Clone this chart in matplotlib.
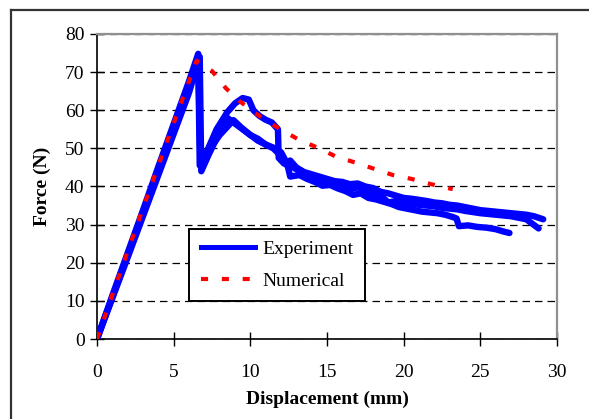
import matplotlib
matplotlib.use("Agg")
import matplotlib.pyplot as plt
from matplotlib.lines import Line2D

# Experimental force-displacement curves (three specimens)
exp1_x = [0, 1, 2, 3, 4, 5, 6, 6.6, 6.7, 7.2, 7.8, 8.5, 9.0, 9.5, 9.9, 10.2, 10.6, 11.0, 11.4, 11.8,
          11.85, 12.2, 12.6, 13.0, 13.5, 14.0, 14.5, 15.0, 15.5, 16.0, 16.5, 17.0, 17.5, 18.0, 18.5,
          19.0, 19.5, 20.0, 20.5, 21.0, 21.5, 22.0, 22.5, 23.0, 23.5, 24.0, 24.5, 25.0, 25.5, 26.0,
          26.5, 27.0, 27.5, 28.0, 28.5, 29.1]
exp1_y = [0, 11.4, 22.6, 33.8, 45.2, 56.4, 67.6, 74.8, 45.5, 49.5, 55.0, 59.5, 61.8, 63.2, 62.8, 60.0,
          58.5, 57.5, 56.8, 55.0, 47.5, 46.0, 46.8, 45.0, 43.8, 43.2, 42.6, 42.0, 41.4, 41.2, 40.6,
          40.8, 40.0, 39.6, 38.6, 38.2, 37.6, 37.0, 36.8, 36.5, 36.2, 35.8, 35.6, 35.2, 35.0, 34.6,
          34.2, 33.8, 33.6, 33.4, 33.2, 33.0, 32.8, 32.6, 32.2, 31.4]

exp2_x = [0, 1, 2, 3, 4, 5, 6, 6.7, 6.8, 7.3, 7.9, 8.5, 9.0, 9.5, 10.0, 10.5, 11.0, 11.5, 12.0,
          12.4, 12.6, 13.2, 13.7, 14.2, 14.7, 15.2, 15.7, 16.2, 16.7, 17.2, 17.7, 18.2, 18.7, 19.2,
          19.7, 20.2, 20.7, 21.2, 21.7, 22.2, 22.7, 23.2, 23.45, 23.6, 24.2, 24.8, 25.4, 26.0, 26.5,
          26.9]
exp2_y = [0, 11.0, 22.1, 33.2, 44.3, 55.4, 66.5, 74.0, 44.0, 48.5, 53.5, 58.0, 56.5, 55.0, 53.5,
          52.5, 51.0, 50.2, 49.0, 46.0, 42.6, 43.0, 42.0, 41.2, 40.2, 40.4, 39.5, 38.8, 37.8, 38.2,
          37.0, 36.6, 36.0, 35.4, 34.6, 34.2, 33.8, 33.4, 33.2, 33.0, 32.6, 32.0, 31.6, 29.6, 29.8,
          29.4, 29.2, 28.8, 28.2, 27.8]

exp3_x = [0, 1, 2, 3, 4, 5, 6, 6.6, 6.75, 7.3, 8.0, 8.9, 9.4, 10.0, 10.5, 11.0, 11.5, 12.0, 12.4,
          12.8, 13.3, 14.0, 14.5, 15.0, 15.5, 16.0, 16.5, 17.0, 17.5, 18.0, 18.5, 19.0, 19.5, 20.0,
          20.5, 21.0, 21.5, 22.0, 22.5, 23.0, 23.5, 24.0, 24.5, 25.0, 25.5, 26.0, 26.5, 27.0, 27.5,
          28.0, 28.4, 28.8]
exp3_y = [0, 10.7, 21.4, 32.2, 43.0, 53.8, 64.6, 72.8, 46.0, 49.5, 53.5, 57.4, 55.5, 53.5, 52.0,
          51.0, 50.0, 48.0, 45.5, 45.0, 43.8, 42.8, 42.0, 41.4, 41.0, 40.4, 39.2, 39.8, 38.8, 38.2,
          37.6, 35.8, 36.2, 35.8, 35.4, 35.2, 35.0, 34.8, 34.4, 34.2, 34.0, 33.6, 33.3, 33.0, 32.8,
          32.6, 32.4, 32.2, 31.8, 31.4, 30.2, 29.0]

# Numerical prediction
num_x = [0, 1, 2, 3, 4, 5, 6, 6.5, 7.5, 8.4, 9.2, 10.3, 11.3, 12.4, 13.2, 14.5, 15.6, 17.0, 18.1,
         19.3, 20.5, 21.8, 23.2]
num_y = [0, 11.6, 23.0, 34.3, 45.5, 56.6, 67.6, 73.0, 70.3, 65.8, 62.7, 59.3, 56.6, 54.0, 52.2,
         50.0, 47.8, 46.1, 44.6, 43.0, 42.0, 40.6, 39.3]

x_ticks = [0, 5, 10, 15, 20, 25, 30]
y_ticks = [0, 10, 20, 30, 40, 50, 60, 70, 80]

plt.rcParams['font.family'] = ['Liberation Serif', 'DejaVu Serif']

W, H = 589, 419
fig = plt.figure(figsize=(W / 100, H / 100), dpi=100)
ax = fig.add_axes([97 / W, 1 - 339 / H, (557 - 97) / W, (339 - 34) / H])

blue = '#0000ff'
red = '#ff0000'
for xs, ys in [(exp3_x, exp3_y), (exp2_x, exp2_y), (exp1_x, exp1_y)]:
    ax.plot(xs, ys, color=blue, lw=4.6, solid_joinstyle='round', solid_capstyle='round', zorder=3)
ax.plot(num_x, num_y, color=red, lw=3.0, linestyle=(0, (1.7, 3.3)), zorder=4)

ax.set_xlim(0, 30)
ax.set_ylim(0, 80)
ax.set_xticks(x_ticks)
ax.set_yticks(y_ticks)

ax.yaxis.grid(True, color='black', linestyle=(0, (6, 4)), linewidth=0.9)
ax.set_axisbelow(True)

for side in ['top', 'right']:
    ax.spines[side].set_color('#909090')
    ax.spines[side].set_linewidth(1.6)
for side in ['left', 'bottom']:
    ax.spines[side].set_color('black')
    ax.spines[side].set_linewidth(1.2)

ax.tick_params(axis='both', direction='inout', length=10, width=1.0, labelsize=14, colors='black')
ax.tick_params(axis='x', pad=13)
ax.tick_params(axis='y', pad=4)

ax.set_xlabel('Displacement (mm)', fontsize=14, fontweight='bold', labelpad=7)
ax.set_ylabel('Force (N)', fontsize=14, fontweight='bold', labelpad=10)

handles = [Line2D([], [], color=blue, lw=3.6),
           Line2D([], [], color=red, lw=3.0, linestyle=(0, (1.7, 3.3)))]
leg = ax.legend(handles, ['Experiment', 'Numerical'], loc='upper left',
                bbox_to_anchor=(189 / W, 1 - 229 / H), bbox_transform=fig.transFigure,
                fontsize=14, frameon=True, fancybox=False, shadow=False, borderaxespad=0,
                handlelength=2.8, handletextpad=0.35, labelspacing=0.7, borderpad=0.6)
leg.get_frame().set_edgecolor('black')
leg.get_frame().set_linewidth(1.4)
leg.get_frame().set_alpha(1)

# Chart frame
fig.add_artist(Line2D([11 / W, 1.0], [1 - 10 / H, 1 - 10 / H], color='#333333', lw=1.6,
                      transform=fig.transFigure))
fig.add_artist(Line2D([11 / W, 11 / W], [0, 1 - 10 / H], color='#333333', lw=1.6,
                      transform=fig.transFigure))

fig.savefig('out.png', dpi=100)
